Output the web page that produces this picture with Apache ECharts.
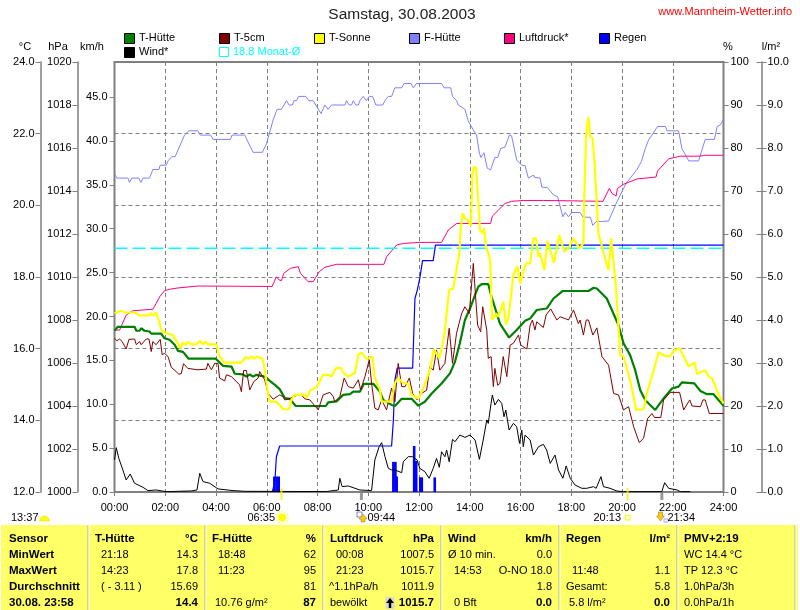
<!DOCTYPE html>
<html>
<head>
<meta charset="utf-8">
<style>html,body{margin:0;padding:0;background:#fff}#c{width:800px;height:610px}</style>
<script src="https://cdn.jsdelivr.net/npm/echarts@6/dist/echarts.min.js"></script>
</head>
<body>
<div id="c"></div>
<script>
// ---------- DATA (hours of day + values in the unit of the series) ----------
const xTicks = [0,2,4,6,8,10,12,14,16,18,20,22,24];
const monatMittel = 18.8;

const sonneH = [0,.26,.39,.79,.99,1.32,1.45,1.51,1.64,1.78,1.84,2.04,2.3,2.5,2.59,2.7,2.8,2.89,3.03,3.22,3.36,3.49,3.59,3.68,4.01,4.14,4.34,5,5.17,5.3,5.39,5.53,5.62,5.83,5.92,6.05,6.12,6.38,6.54,6.64,6.88,6.97,7.11,7.5,7.57,7.7,7.96,8.22,8.42,8.55,8.72,8.91,9.01,9.21,9.47,9.61,9.74,9.93,10.17,10.24,10.46,10.53,10.92,11.05,11.18,11.38,11.58,11.71,11.97,12.17,12.43,12.59,12.8,12.99,13.19,13.35,13.59,13.64,13.72,13.81,13.94,14.05,14.1,14.17,14.25,14.34,14.4,14.51,14.57,14.64,14.8,14.84,14.88,15.03,15.13,15.32,15.42,15.52,15.72,15.88,15.98,16.11,16.22,16.38,16.51,16.61,16.71,16.77,16.94,17.06,17.32,17.53,17.72,17.89,18.09,18.32,18.48,18.51,18.59,18.68,18.75,18.84,18.92,19.07,19.21,19.34,19.47,19.57,19.67,19.77,19.93,20.06,20.32,20.56,20.85,20.98,21.25,21.44,21.71,21.9,22.03,22.27,22.63,22.86,22.96,23.28,23.42,23.55,23.81,24];
const sonneV = [16.99,17.06,17.01,17.01,16.93,16.93,16.99,16.92,17.01,16.71,16.52,16.43,16.38,16.15,16.01,16.17,16.11,16.19,16.12,16.12,16.21,16.12,16.2,16.12,16.12,15.78,15.61,15.61,15.76,15.72,15.78,15.72,15.78,15.72,15.41,14.76,14.52,14.52,14.4,14.31,14.31,14.57,14.71,14.72,14.62,14.83,14.92,15.27,15.27,15.22,15.45,15.47,15.33,15.22,15.32,15.83,15.89,15.71,15.78,15.22,14.85,14.52,14.52,15.04,15.18,15.04,15.02,14.71,14.61,14.89,15.4,15.98,15.73,16.33,17.64,17.68,18.66,19.31,19.78,19.64,19.57,19.42,20.89,21.08,21.03,20.06,19.31,19.22,19.36,18.85,18.49,17.64,16.8,16.98,16.89,17.31,16.68,16.85,18.05,18.31,17.82,18.15,18.38,18.38,19.08,19.08,18.57,18.66,18.19,19.01,18.4,19.17,18.71,18.8,19.08,18.8,18.94,20.15,22.01,22.47,21.92,21.87,21.17,19.22,18.85,18.49,18.19,19.08,18.38,17.64,15.82,15.78,15.12,14.29,14.31,14.75,15.4,15.9,15.79,15.79,15.94,16.01,15.5,15.62,15.29,15.4,15.22,15.17,14.71,14.47];

const huetteH = [0,.13,.79,.86,.99,1.05,1.18,1.38,1.45,1.84,1.97,2.17,2.37,2.5,2.7,2.92,3.99,4.28,4.61,4.74,5.07,5.2,5.33,5.46,5.59,5.66,5.92,6.12,6.32,6.51,6.71,6.91,7.14,8.33,8.42,8.75,9.01,9.28,9.41,9.67,9.83,10.2,10.46,10.59,10.92,11.05,11.32,11.71,11.97,12.23,12.5,12.89,13.22,13.42,13.61,13.81,14.01,14.21,14.34,14.47,14.73,14.86,15.19,15.55,15.85,16.18,16.38,16.64,17.03,17.3,17.67,18.68,18.88,19.01,19.4,19.6,19.86,20.06,20.32,20.52,20.72,20.92,21.31,21.64,21.97,22.23,22.36,22.85,23.09,23.35,23.61,23.81,24];
const huetteV = [16.5,16.61,16.61,16.5,16.5,16.57,16.5,16.48,16.42,16.42,16.29,16.25,16.11,15.94,15.91,15.72,15.72,15.52,15.5,15.3,15.28,15.22,15.28,15.22,15.27,15.22,15.22,15.1,14.99,14.87,14.62,14.6,14.4,14.4,14.5,14.53,14.71,14.73,14.8,14.8,15.02,15.02,14.8,14.57,14.43,14.4,14.6,14.6,14.41,14.52,14.75,15.03,15.31,15.64,16.15,16.8,17.12,17.5,17.73,17.8,17.8,17.45,16.7,16.31,16.52,16.78,16.84,17.08,17.12,17.4,17.61,17.61,17.7,17.68,17.4,17.08,16.66,16.15,15.82,15.4,14.84,14.56,14.29,14.61,14.89,14.94,15.06,15.03,14.82,14.73,14.73,14.56,14.41];

const erdeH = [0,.09,.2,.3,.46,.57,.79,.86,.99,1.05,1.25,1.36,1.45,1.51,1.64,1.8,1.88,1.97,2.11,2.24,2.43,2.53,2.63,2.72,2.89,3.29,3.62,3.68,3.82,3.95,4.08,4.14,4.34,4.41,4.61,4.93,5,5.09,5.2,5.33,5.49,5.66,5.72,5.92,6.05,6.25,6.51,6.64,6.71,6.84,7.17,7.37,7.5,7.7,7.83,8.03,8.22,8.49,8.62,8.68,8.88,9.05,9.21,9.41,9.61,9.7,9.87,10.04,10.13,10.26,10.39,10.53,10.72,10.92,11.05,11.18,11.32,11.45,11.62,11.75,11.93,12.1,12.3,12.43,12.56,12.69,12.82,13.02,13.19,13.32,13.48,13.68,13.81,13.98,14.14,14.23,14.31,14.43,14.51,14.67,14.73,14.84,14.93,14.99,15.1,15.19,15.32,15.46,15.59,15.72,15.92,16.01,16.25,16.38,16.47,16.57,16.64,16.9,17.01,17.19,17.43,17.56,17.76,17.89,18.09,18.28,18.35,18.48,18.59,18.68,18.85,19.01,19.21,19.47,19.67,19.86,20.06,20.26,20.46,20.68,20.85,21.01,21.18,21.28,21.53,21.64,21.9,22.27,22.43,22.67,22.76,23.09,23.19,23.28,23.44,24];
const erdeV = [16.29,16.22,16.27,16.2,15.99,16.26,16.27,16.11,16.2,16.11,16.27,16.27,15.92,16.2,16.11,16.26,15.83,15.87,15.78,15.48,15.36,15.29,15.3,15.58,15.45,15.41,15.43,15.59,15.41,15.59,15.59,15.18,15.1,15.27,15.22,14.99,14.8,15.39,15.39,14.85,15.08,15.18,15.36,15.13,14.76,14.59,14.71,14.66,14.57,14.59,14.69,14.71,14.6,14.57,14.46,14.29,14.71,14.78,14.66,14.52,14.66,15.18,14.94,14.9,15.13,14.85,15.22,15.69,15.04,14.34,14.29,14.57,14.29,14.9,14.52,15.59,14.94,14.94,15.18,14.75,14.57,14.75,14.84,15.5,15.4,15.96,15.4,15.59,16.57,15.59,16.43,16.98,17.17,16.98,18.38,17.45,16.66,16.47,17.17,16.52,15.73,15.78,14.94,15.45,14.98,15.03,15.78,15.22,16.1,16.15,16.38,16.1,15.99,16.66,16.8,16.52,16.75,16.59,16.94,17.11,16.8,16.89,16.84,16.8,17.08,16.7,16.8,16.38,16.8,16.8,16.38,16.58,15.78,15.54,14.75,14.71,14.29,14.38,13.82,13.38,13.5,14.05,14.19,14.08,14.08,14.57,14.78,14.78,14.29,14.57,14.4,14.38,14.57,14.57,14.19,14.19];

const windH = [0,.07,.17,.33,.46,.62,.79,1.12,1.32,1.64,2.04,3.03,3.25,3.36,3.49,3.75,4.08,4.67,5.13,7.11,8.36,8.82,8.88,8.97,9.21,9.67,10.13,10.26,10.43,10.53,10.66,10.79,10.92,11.05,11.32,11.38,11.58,11.75,11.93,12.03,12.23,12.4,12.56,12.69,12.8,12.89,13.02,13.09,13.19,13.32,13.42,13.61,13.81,14.01,14.21,14.38,14.53,14.67,14.73,14.84,14.89,14.99,15.13,15.26,15.35,15.42,15.55,15.72,15.85,15.96,16.05,16.11,16.18,16.38,16.51,16.71,16.9,17.03,17.17,17.36,17.5,17.67,17.8,17.96,18.15,18.42,18.61,18.88,18.98,19.17,19.27,19.53,19.8,20.06,21.57,21.68,21.84,22.17,22.3,22.69];
const windV = [3.65,5.05,3.84,2.51,1.37,2.05,1,.54,.16,.23,.04,.12,.23,2.13,1.18,1,.35,.16,.08,.06,.06,.23,1.56,.61,.69,.23,.16,3.65,5.17,5.62,4.03,2.7,2.51,2.51,2.2,3.46,4.03,4.02,3.64,2.7,2.32,1.56,2.7,3.83,2.81,4.59,4.02,4.78,3.45,6,5.73,6.49,6.23,6.49,5.92,3.72,5.92,8.2,7.82,10.1,11.05,9.91,10.55,10.1,8.58,9.34,7.06,7.82,7.44,5.54,7.06,5.16,6.49,5.92,4.21,5.16,5.43,4.78,3.26,4.21,2.51,1.56,2.96,1.56,.8,.42,.42,.61,.42,1.75,.61,.42,.11,.04,.04,1.06,.42,.23,.04,.04];

const feuchteH = [0,.09,.53,.59,.68,.96,1.04,1.12,1.38,1.51,1.75,1.8,2.04,2.11,2.26,2.39,2.76,2.93,3.29,3.38,3.79,3.88,4.57,4.63,5.13,5.46,5.83,5.99,6.25,6.41,6.58,6.78,6.88,7.01,7.07,7.17,7.26,7.54,7.66,7.83,7.93,8.14,8.29,8.42,8.55,9.08,9.14,9.25,9.34,9.41,9.51,9.61,9.67,9.8,9.93,10.04,10.17,10.3,10.57,10.66,10.79,10.92,11.05,11.32,11.41,11.68,11.78,11.9,12.89,12.99,13.25,13.32,13.48,13.55,13.81,13.94,14.14,14.27,14.38,14.44,14.56,14.69,14.82,14.99,15.1,15.22,15.39,15.56,15.65,15.85,16.05,16.18,16.31,16.51,16.55,16.77,16.84,17.06,17.3,17.46,17.67,17.76,17.89,18.02,18.35,18.46,18.75,18.85,18.98,19.14,19.47,19.6,19.8,20.06,20.19,20.59,20.76,20.92,21.05,21.18,21.4,21.71,21.77,22.23,22.36,22.63,23.02,23.28,23.64,23.75,23.88,24];
const feuchteV = [74,73,73,72,73,73,72,73,73,75,75,76,76,77,78,78,83,84,84,83,83,82,82,83,83,79,79,81,86.5,89,89,91,90,90,91,91,92,92,91,91,90,88,90,89,90,90,91,90,90,91,90,90,91,92,91,92,92,90,90,91,92,92,94,94,95,95,94,95,95,94,94,92,91,90,89,86.3,84.2,83,78.8,77.8,78.9,75.3,74.9,77.8,77.8,79.9,80.2,83,82.8,77.2,76,75.9,73,73.7,73.2,73,70.9,70.8,69.1,68.7,64,65,64,65,65,63.9,63.9,62,62.9,62.9,63,64.8,67.5,70.6,72,75,76.8,79.9,81.9,83,85,85,84,84,79.9,77,77,82,82,85,85.4,86.7];

const druckH = [.07,.2,.46,.72,1.51,1.64,1.78,1.97,2.17,2.5,3.29,6.21,6.38,6.49,6.58,6.67,6.93,7.24,7.33,7.63,7.83,8.07,8.29,8.75,10.62,10.72,11.12,11.38,12.04,12.89,13.15,13.48,14.82,14.89,15.39,15.65,16.11,16.9,16.93,19.25,19.5,19.6,19.77,19.82,20.06,20.59,21.34,21.4,21.84,22.3,23.09,23.22,24];
const druckV = [1007.53,1007.53,1008.23,1008.43,1008.5,1008.77,1009.08,1009.36,1009.43,1009.49,1009.58,1009.56,1010.01,1009.86,1009.83,1010.17,1010.4,1010.48,1010.17,1009.78,1009.78,1010.25,1010.45,1010.59,1010.59,1010.94,1011.49,1011.56,1011.61,1011.61,1012.18,1012.49,1012.49,1012.83,1013.42,1013.52,1013.56,1013.56,1013.52,1013.52,1014.12,1013.89,1013.77,1014.12,1014.31,1014.56,1014.65,1014.93,1015.5,1015.62,1015.62,1015.66,1015.66];

const regenSummeH = [6.22,6.32,6.38,6.51,10.92,10.99,11.05,11.14,11.75,11.84,11.93,12.03,12.14,12.56,12.65,24];
const regenSummeV = [0,.24,.82,1.07,1.07,1.67,2.6,2.88,2.88,4.5,4.69,4.97,5.38,5.38,5.74,5.74];
const regenBalkenH = [6.3,6.39,6.47,10.99,11.07,11.12,11.81,11.89,12.05,12.11,12.62];
const regenBalkenV = [.36,.36,.36,.7,.7,.36,1.07,.72,.34,.34,.34];

const sunEvents = [6.58, 20.22];   // 06:35 / 20:13
const moonEvents = [9.73, 21.57];  // 09:44 / 21:34

const legendA = ['T-Hütte','T-5cm','T-Sonne','F-Hütte','Luftdruck*','Regen'];
const legendColors = ['#008000','#800000','#FFFF00','#8080FF','#FF0080','#0000FF'];

const tableHead = [['Sensor'],['T-Hütte','°C'],['F-Hütte','%'],['Luftdruck','hPa'],['Wind','km/h'],['Regen','l/m²'],['PMV+2:19']];
const rowsSensor = ['MinWert','MaxWert','Durchschnitt','30.08. 23:58'];
const rowsHuette = [['21:18','14.3'],['14:23','17.8'],['( - 3.11 )','15.69'],['','14.4']];
const rowsFeuchte = [['18:48','62'],['11:23','95'],['','81'],['10.76 g/m²','87']];
const rowsDruck = [['00:08','1007.5'],['21:23','1015.7'],['^1.1hPa/h','1011.9'],['bewölkt','1015.7']];
const rowsWind = [['Ø 10 min.','0.0'],['14:53','O-NO 18.0'],['','1.8'],['0 Bft','0.0']];
const rowsRegen = [['',''],['11:48','1.1'],['Gesamt:','5.8'],['5.8 l/m²','0.0']];
const rowsPmv = ['WC 14.4 °C','TP 12.3 °C','1.0hPa/3h','0.0hPa/1h'];

// ---------- HELPERS ----------
const zip = (a,b)=>a.map((v,i)=>[v,b[i]]);
const FF = '"Liberation Sans", Arial, sans-serif';
const g = [];
function T(x,y,text,o={}){
  g.push({type:'text',silent:true,z:100,style:{x,y,text,
    font:(o.bold?'bold ':'')+(o.size||11)+'px '+FF,fill:o.color||'#000',
    align:o.align||'left',verticalAlign:'middle'}});
}
function R(x,y,w,h,fill,stroke,lw){
  g.push({type:'rect',silent:true,z:o_z(),shape:{x,y,width:w,height:h},style:{fill:fill||'none',stroke:stroke||'none',lineWidth:lw||1}});
}
let zc=50; function o_z(){return zc++;}

// Title
T(402,15,'Samstag, 30.08.2003',{size:15.5,align:'center',color:'#222'});
T(792,12,'www.Mannheim-Wetter.info',{size:11,align:'right',color:'#FF0000'});

// Legend
const legendX=[124,219,314,409,504,599];
legendA.forEach((n,i)=>{
  R(legendX[i]+.5,33.5,10,10,legendColors[i],'#000',1);
  T(legendX[i]+15,38,n);
});
R(124.5,47.5,10,10,'#000','#000',1); T(139,52,'Wind*');
R(219.5,47.5,9,9,'#fff','#00FFFF',1);
T(233,52,'18.8 Monat-Ø',{color:'#00FFFF'});

// Units
T(25,47,'°C',{align:'center'});T(58,47,'hPa',{align:'center'});T(92,47,'km/h',{align:'center'});
T(728,47,'%',{align:'center'});T(771,47,'l/m²',{align:'center'});

// Sun & moon strip
T(11,517.5,'13:37');
g.push({type:'sector',silent:true,z:60,shape:{cx:44.5,cy:521,r:5,r0:0,startAngle:Math.PI,endAngle:2*Math.PI},style:{fill:'#FFFF00',stroke:'#e8d800',lineWidth:.5}});
T(275,517.5,'06:35',{align:'right'});
g.push({type:'circle',silent:true,z:60,shape:{cx:282,cy:517.5,r:4},style:{fill:'#FFFF00'}});
g.push({type:'circle',silent:true,z:59,shape:{cx:282,cy:517.5,r:6},style:{fill:'none',stroke:'#FFFF66',lineWidth:1.5,lineDash:[1.5,1.5]}});
T(395,517.5,'09:44',{align:'right'});
R(357,512,5,5,'none','#6666cc',.8);
g.push({type:'polygon',silent:true,z:60,shape:{points:[[363,514],[367,519],[365,519],[365,522],[361,522],[361,519],[359,519]]},style:{fill:'#FFCC00',stroke:'#555',lineWidth:.4}});
T(621,517.5,'20:13',{align:'right'});
R(625.5,515.5,4.5,4.5,'#fff','#FFFF00',1.2);
g.push({type:'polygon',silent:true,z:60,shape:{points:[[660.5,521],[656.5,516],[658.5,516],[658.5,512],[662.5,512],[662.5,516],[664.5,516]]},style:{fill:'#FFCC00',stroke:'#555',lineWidth:.4}});
T(695,517.5,'21:34',{align:'right'});
R(664,519,4,3,'none','#9999dd',.8);

// Bottom panel
R(1,525,797,85,'#FFFF66');
const seps=[88,205,323,441,559,677,795];
seps.forEach(x=>{R(x-.5,525,1,85,'#b0b0a0');R(x+.5,525,1,85,'#fff');});
const rowY=[539,555,571,587,603];
T(9,rowY[0],tableHead[0][0],{bold:1,size:11.5});
rowsSensor.forEach((s,i)=>T(9,rowY[i+1],s,{bold:1,size:11.5}));
function col(head,rows,xHead,xRow,xRight){
  T(xHead,rowY[0],head[0],{bold:1,size:11.5});
  T(xRight,rowY[0],head[1],{bold:1,size:11.5,align:'right'});
  rows.forEach((r,i)=>{
    const x = Array.isArray(xRow)?xRow[i]:xRow;
    if(r[0])T(x,rowY[i+1],r[0]);
    if(r[1])T(xRight,rowY[i+1],r[1],{bold:i===3,size:i===3?11.5:11,align:'right'});
  });
}
col(tableHead[1],rowsHuette,95,101,198);
col(tableHead[2],rowsFeuchte,212,[218,218,218,215],316);
col(tableHead[3],rowsDruck,330,[336,336,329,330],434);
col(tableHead[4],rowsWind,448,[448,454,454,454],552);
col(tableHead[5],rowsRegen,566,[572,572,566,569],670);
T(684,rowY[0],tableHead[6][0],{bold:1,size:11.5});
rowsPmv.forEach((s,i)=>T(684,rowY[i+1],s));
R(385.5,597,9,12,'#d8d8d0');
g.push({type:'polygon',silent:true,z:90,shape:{points:[[390,598],[394,603],[391.2,603],[391.2,608],[388.8,608],[388.8,603],[386,603]]},style:{fill:'#000'}});

// ---------- CHART ----------
const line=(name,yi,h,v,color,w,z,extra={})=>Object.assign({
  name,type:'line',yAxisIndex:yi,data:zip(h,v),symbol:'none',showSymbol:false,
  lineStyle:{color,width:w},itemStyle:{color},z,silent:true,animation:false
},extra);

const AX='#808080';
const chart=echarts.init(document.getElementById('c'),null,{renderer:'canvas'});
const yCommon=(o)=>Object.assign({type:'value',splitLine:{show:false},
  axisLine:{show:false},axisTick:{show:true,length:5,lineStyle:{color:AX,width:1}},
  axisLabel:{color:'#000',fontFamily:FF,fontSize:11},
},o);
const kmhTicks=[0,5,10,15,20,25,30,35,40,45];
chart.setOption({
  animation:false,
  backgroundColor:'#fff',
  grid:{left:114.5,top:62,width:609,height:430,show:true,borderColor:AX,borderWidth:2,backgroundColor:'transparent',containLabel:false},
  xAxis:{type:'value',min:0,max:24,interval:2,
    axisLine:{show:false},
    axisTick:{show:true,length:4,lineStyle:{color:AX,width:1}},
    axisLabel:{color:'#000',fontFamily:FF,fontSize:11,margin:10,hideOverlap:false,
      formatter:v=>String(v).padStart(2,'0')+':00'},
    splitLine:{show:true,lineStyle:{color:AX,type:[4,3],width:1}}},
  yAxis:[
    yCommon({position:'left',offset:74,min:12,max:24,interval:2,
      axisLine:{show:true,onZero:false,lineStyle:{color:AX,width:1.5}},
      axisLabel:{color:'#000',fontFamily:FF,fontSize:11,margin:6,formatter:v=>v.toFixed(1)},
      splitLine:{show:true,lineStyle:{color:AX,type:[4,3],width:1}}}),
    yCommon({position:'left',offset:37,min:1000,max:1020,interval:2,
      axisLine:{show:true,onZero:false,lineStyle:{color:AX,width:1.5}},
      axisLabel:{color:'#000',fontFamily:FF,fontSize:11,margin:6,formatter:v=>String(v)}}),
    yCommon({position:'left',offset:0,min:0,max:49,
      axisTick:{show:true,length:5,customValues:kmhTicks,lineStyle:{color:AX,width:1}},
      axisLabel:{color:'#000',fontFamily:FF,fontSize:11,margin:7,customValues:kmhTicks,formatter:v=>v.toFixed(1)}}),
    yCommon({position:'right',offset:0,min:0,max:100,interval:10,
      axisLabel:{color:'#000',fontFamily:FF,fontSize:11,margin:7}}),
    yCommon({position:'right',offset:38,min:0,max:10,interval:1,
      axisLine:{show:true,onZero:false,lineStyle:{color:AX,width:1.5}},
      axisLabel:{color:'#000',fontFamily:FF,fontSize:11,margin:6,formatter:v=>v.toFixed(1)}}),
    yCommon({position:'right',offset:38,min:0,max:10,interval:1,
      axisTick:{show:true,inside:true,length:5,lineStyle:{color:AX,width:1}},
      axisLabel:{show:false}})
  ],
  series:[
    line('F-Hütte',3,feuchteH,feuchteV,'#8080FF',1,2),
    line('Luftdruck*',1,druckH,druckV,'#FF0080',1,3),
    line('Monat-Ø',0,[0,24],[monatMittel,monatMittel],'#00FFFF',1.5,3,{lineStyle:{color:'#00FFFF',width:1.5,type:[13,5]}}),
    line('Regen Summe',4,regenSummeH,regenSummeV,'#0000FF',1.2,4),
    {name:'Regen',type:'bar',yAxisIndex:4,data:zip(regenBalkenH,regenBalkenV),barWidth:2.6,
      itemStyle:{color:'#0000FF'},z:4,silent:true,animation:false},
    line('T-Hütte',0,huetteH,huetteV,'#008000',2.2,5),
    line('T-5cm',0,erdeH,erdeV,'#800000',1,6),
    line('T-Sonne',0,sonneH,sonneV,'#FFFF00',2.2,7),
    line('Wind*',2,windH,windV,'#000000',1,8),
    {name:'Sonne',type:'scatter',yAxisIndex:0,clip:false,silent:true,animation:false,z:9,
      data:sunEvents.map(h=>[h,12]),symbol:'rect',symbolSize:[2,12],symbolOffset:[0,2],itemStyle:{color:'#FFEE00'}},
    {name:'Mond',type:'scatter',yAxisIndex:0,clip:false,silent:true,animation:false,z:9,
      data:moonEvents.map(h=>[h,12]),symbol:'rect',symbolSize:[3,8],symbolOffset:[0,4],itemStyle:{color:AX}}
  ],
  graphic:g
});
</script>
</body>
</html>
